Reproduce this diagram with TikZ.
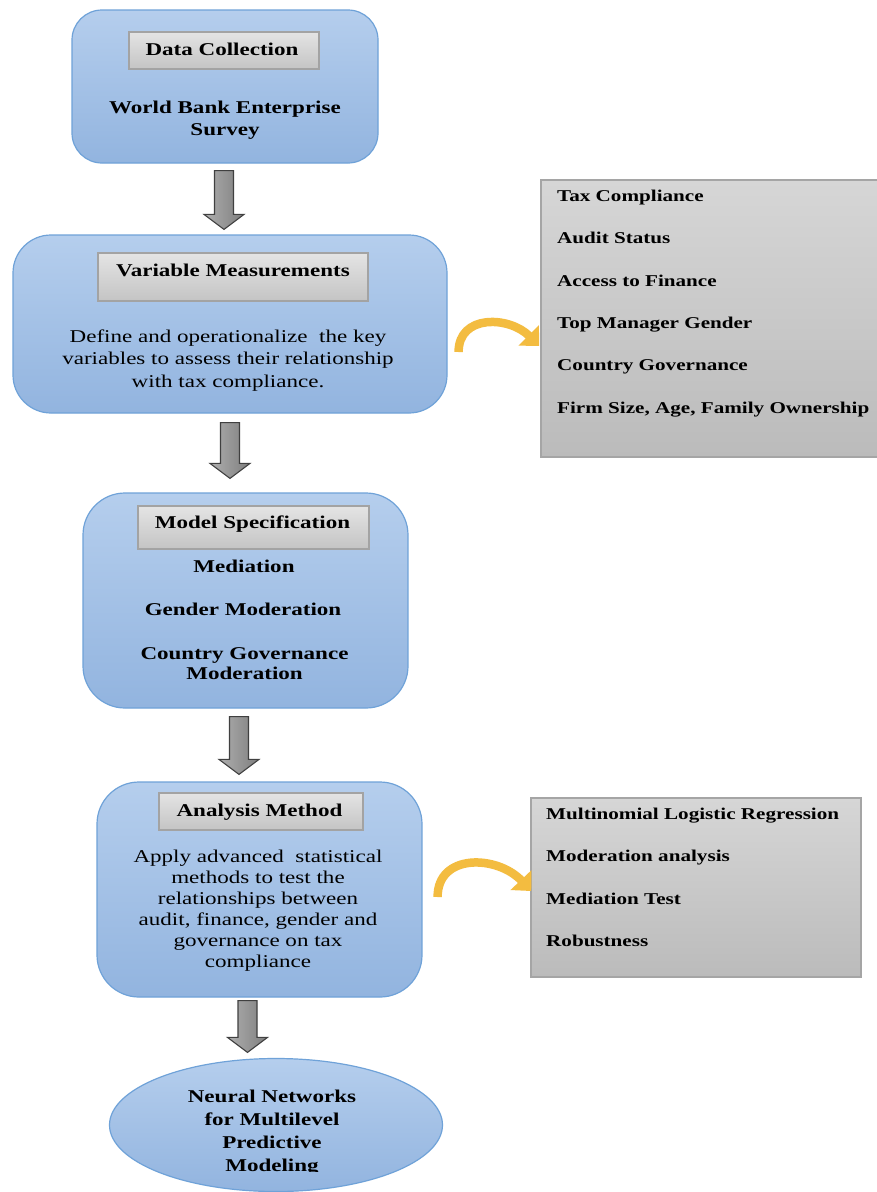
\documentclass[tikz,border=0pt]{standalone}
\usepackage{fontspec}
\setmainfont{Liberation Serif}[FakeStretch=1.28]
\usetikzlibrary{shapes.geometric,calc,arrows.meta}
\definecolor{bluetop}{HTML}{B5CEED}
\definecolor{bluebot}{HTML}{92B4DF}
\definecolor{bluebd}{HTML}{6FA2D8}
\definecolor{ttop}{HTML}{E4E4E4}
\definecolor{tbot}{HTML}{C4C4C4}
\definecolor{tbd}{HTML}{A3A3A3}
\definecolor{stop}{HTML}{D6D6D6}
\definecolor{sbot}{HTML}{BBBBBB}
\definecolor{sbd}{HTML}{A5A5A5}
\definecolor{arrfill}{HTML}{949494}
\definecolor{arrbd}{HTML}{404040}
\definecolor{curvc}{HTML}{F3BC40}
\newcommand\blockarr[2]{\draw[barrow] let \p1=(#1),\p2=(#2) in
  (\x1-9.5pt,\y1) -- (\x1+9.5pt,\y1) -- (\x1+9.5pt,\y2+15pt) -- (\x1+20pt,\y2+15pt)
  -- (\x1,\y2) -- (\x1-20pt,\y2+15pt) -- (\x1-9.5pt,\y2+15pt) -- cycle;}
\begin{document}
\begin{tikzpicture}[x=1pt,y=-1pt,
  mainbox/.style={draw=bluebd,line width=1.2pt,top color=bluetop,bottom color=bluebot,inner sep=0pt},
  titlebox/.style={draw=tbd,line width=1.2pt,top color=ttop,bottom color=tbot,inner sep=0pt},
  sidebox/.style={draw=sbd,line width=1.5pt,top color=stop,bottom color=sbot,inner sep=0pt},
  ttext/.style={anchor=base,inner sep=0pt,font=\fontsize{18}{22}\selectfont\bfseries},
  btext/.style={anchor=north,inner sep=0pt,align=center,font=\fontsize{18}{22}\selectfont},
  stext/.style={anchor=north west,inner sep=0pt,align=left,font=\fontsize{16.5}{42.4}\selectfont\bfseries},
  barrow/.style={draw=arrbd,line width=1.1pt,left color=arrfill!75!white,right color=arrfill!85!black},
  curv/.style={draw=curvc,line width=8.5pt,-{Triangle[length=15pt,width=28pt]}}]
\useasboundingbox (0,0) rectangle (877,1192);
\fill[white] (0,0) rectangle (877,1192);

% main boxes
\node[mainbox,rounded corners=30pt,minimum width=306pt,minimum height=153pt] (b1) at (225,86.5) {};
\node[mainbox,rounded corners=38pt,minimum width=434pt,minimum height=178pt] (b2) at (230,324) {};
\node[mainbox,rounded corners=42pt,minimum width=325pt,minimum height=215pt] (b3) at (245.5,600.5) {};
\node[mainbox,rounded corners=42pt,minimum width=325pt,minimum height=215pt] (b4) at (259.5,889.5) {};
\node[mainbox,ellipse,minimum width=333pt,minimum height=133pt] (e) at (276,1125) {};

% title boxes
\node[titlebox,minimum width=190pt,minimum height=37pt] (t1) at (224,50.5) {};
\node[titlebox,minimum width=270pt,minimum height=48pt] (t2) at (233,277) {};
\node[titlebox,minimum width=231pt,minimum height=43pt] (t3) at (253.5,527.5) {};
\node[titlebox,minimum width=204pt,minimum height=37pt] (t4) at (261,811.5) {};
\node[ttext] (t1t) at (222,55) {Data Collection};
\node[ttext] (t2t) at (233,276) {Variable Measurements};
\node[ttext] (t3t) at (252.5,528) {Model Specification};
\node[ttext] (t4t) at (259.5,816) {Analysis Method};

% body texts
\node[btext,font=\fontsize{18}{22}\selectfont\bfseries] (b1t) at (225,100.5) {World Bank Enterprise\\Survey};
\node[btext,font=\fontsize{18}{22.5}\selectfont] (b2t) at (228,329.5) {Define and operationalize\ \ the key\\variables to assess their relationship\\with tax compliance.};
\node[ttext] (b3a) at (244,572) {Mediation};
\node[ttext] (b3b) at (243,615) {Gender Moderation};
\node[btext,font=\fontsize{18}{20}\selectfont\bfseries] (b3c) at (244.5,647.5) {Country Governance\\Moderation};
\node[btext,font=\fontsize{18}{21}\selectfont] (b4t) at (258,849.5) {Apply advanced\ \ statistical\\methods to test the\\relationships between\\audit, finance, gender and\\governance on tax\\compliance};
\begin{scope}
\clip (0,0) rectangle (877,1171);
\node[btext,font=\fontsize{18}{23}\selectfont\bfseries] (et) at (272,1089.5) {Neural Networks\\for Multilevel\\Predictive\\Modeling};
\end{scope}

% side boxes
\node[sidebox,minimum width=339pt,minimum height=277pt] (vars) at (710.5,318.5) {};
\node[stext] (varst) at (557,189.7) {Tax Compliance\\Audit Status\\Access to Finance\\Top Manager Gender\\Country Governance\\Firm Size, Age, Family Ownership};
\node[sidebox,minimum width=330pt,minimum height=179pt] (meth) at (696,887.5) {};
\node[stext] (metht) at (546,807.7) {Multinomial Logistic Regression\\Moderation analysis\\Mediation Test\\Robustness};

% block arrows
\coordinate (a1s) at ($(b1.south)+(-1,7)$);
\coordinate (a1e) at ($(a1s|-b2.north)+(0,-5)$);
\coordinate (a2s) at ($(b2.south)+(0,9)$);
\coordinate (a2e) at ($(a2s|-b3.north)+(0,-14)$);
\coordinate (a3s) at ($(b3.south)+(-6.5,8)$);
\coordinate (a3e) at ($(a3s|-b4.north)+(0,-7)$);
\coordinate (a4s) at ($(b4.south)+(-12,3)$);
\coordinate (a4e) at ($(a4s|-e.north)+(0,-5.5)$);
\blockarr{a1s}{a1e}
\blockarr{a2s}{a2e}
\blockarr{a3s}{a3e}
\blockarr{a4s}{a4e}

% curved arrows
\draw[curv] ($(b2.east)+(11,28)$) .. controls +(0,-38) and +(-30,-30) .. ($(vars.west)+(-1,27.5)$);
\draw[curv] ($(b4.east)+(15,7.5)$) .. controls +(0,-44) and +(-34,-36) .. ($(meth.west)+(1,3.5)$);
\end{tikzpicture}
\end{document}
